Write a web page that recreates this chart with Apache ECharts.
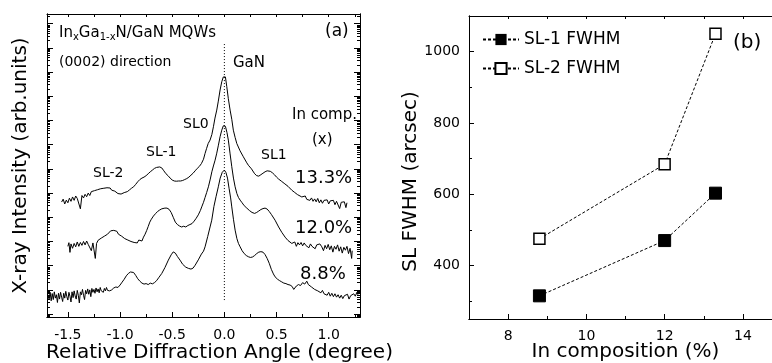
<!DOCTYPE html>
<html><head><meta charset="utf-8">
<script src="https://cdn.jsdelivr.net/npm/echarts@6/dist/echarts.min.js"></script>
<style>html,body{margin:0;padding:0;background:#fff}#c{width:772px;height:363px}</style>
</head><body><div id="c"></div>
<script>
// ---- Panel (a): XRD scans, y = log10 intensity (arb. units, curves offset) ----
const scan133 = [[-1.56,4.63],[-1.545,4.75],[-1.53,4.55],[-1.515,4.71],[-1.50,4.60],[-1.485,4.79],[-1.47,4.66],[-1.455,4.84],[-1.44,4.70],[-1.425,4.88],[-1.41,4.78],[-1.395,4.86],[-1.38,4.35],[-1.365,4.90],[-1.35,4.80],[-1.335,4.95],[-1.32,4.85],[-1.305,5.00],[-1.29,4.90],[-1.275,5.06],[-1.26,4.98],[-1.245,5.10],[-1.23,5.02],[-1.215,5.14],[-1.20,5.08],[-1.185,5.18],[-1.17,5.10],[-1.155,5.20],[-1.14,5.15],[-1.125,5.22],[-1.11,5.16],[-1.095,5.21],[-1.08,5.12],[-1.065,5.17],[-1.05,5.08],[-1.035,5.04],[-1.02,4.98],[-1.005,5.00],[-0.99,4.96],[-0.975,5.03],[-0.96,5.02],[-0.945,5.08],[-0.93,5.06],[-0.91,5.13],[-0.89,5.20],[-0.87,5.26],[-0.85,5.36],[-0.83,5.47],[-0.81,5.56],[-0.79,5.62],[-0.77,5.66],[-0.75,5.72],[-0.73,5.80],[-0.71,5.88],[-0.69,5.95],[-0.67,6.02],[-0.65,6.06],[-0.62,6.08],[-0.60,6.04],[-0.58,5.92],[-0.56,5.80],[-0.54,5.72],[-0.52,5.62],[-0.50,5.54],[-0.48,5.50],[-0.46,5.49],[-0.44,5.50],[-0.43,5.46],[-0.42,5.50],[-0.40,5.52],[-0.38,5.56],[-0.36,5.60],[-0.34,5.66],[-0.32,5.74],[-0.30,5.82],[-0.28,5.92],[-0.26,6.02],[-0.24,6.10],[-0.22,6.22],[-0.20,6.40],[-0.185,6.64],[-0.17,6.85],[-0.155,7.05],[-0.137,7.19],[-0.12,7.42],[-0.105,7.74],[-0.09,8.10],[-0.073,8.43],[-0.058,8.80],[-0.041,9.26],[-0.025,9.60],[-0.01,9.80],[0.0,9.85],[0.01,9.80],[0.023,9.40],[0.038,8.90],[0.055,8.43],[0.071,8.05],[0.086,7.60],[0.103,7.30],[0.119,7.05],[0.15,6.75],[0.182,6.50],[0.215,6.25],[0.23,6.15],[0.26,6.00],[0.29,5.80],[0.31,5.72],[0.33,5.70],[0.35,5.76],[0.37,5.82],[0.39,5.88],[0.41,5.92],[0.425,5.96],[0.44,5.90],[0.46,5.84],[0.48,5.76],[0.50,5.66],[0.52,5.58],[0.55,5.48],[0.58,5.38],[0.61,5.28],[0.646,5.12],[0.67,5.04],[0.70,4.94],[0.742,4.84],[0.76,4.78],[0.775,4.88],[0.79,4.74],[0.805,4.82],[0.82,4.70],[0.835,4.80],[0.85,4.66],[0.865,4.76],[0.88,4.64],[0.895,4.78],[0.91,4.60],[0.925,4.72],[0.94,4.58],[0.955,4.70],[0.97,4.62],[0.985,4.72],[1.00,4.55],[1.015,4.68],[1.03,4.60],[1.045,4.70],[1.06,4.52],[1.075,4.66],[1.09,4.58],[1.105,4.36],[1.12,4.62],[1.135,4.55],[1.15,4.64],[1.165,4.40],[1.175,4.60]];

const scan120 = [[-1.50,2.80],[-1.49,2.95],[-1.48,2.55],[-1.47,2.90],[-1.455,2.72],[-1.44,2.92],[-1.425,2.78],[-1.41,2.98],[-1.395,2.80],[-1.38,2.96],[-1.365,2.84],[-1.35,3.00],[-1.335,2.86],[-1.32,3.02],[-1.305,2.88],[-1.29,2.96],[-1.275,2.62],[-1.26,2.94],[-1.237,2.30],[-1.225,2.92],[-1.21,3.05],[-1.195,2.98],[-1.18,3.14],[-1.165,3.10],[-1.15,3.22],[-1.135,3.18],[-1.12,3.30],[-1.105,3.38],[-1.09,3.44],[-1.075,3.40],[-1.06,3.46],[-1.045,3.38],[-1.03,3.42],[-1.015,3.30],[-1.00,3.32],[-0.985,3.22],[-0.97,3.24],[-0.955,3.12],[-0.94,3.14],[-0.925,3.06],[-0.91,3.10],[-0.895,3.00],[-0.88,3.04],[-0.865,2.96],[-0.85,3.00],[-0.835,2.94],[-0.82,3.06],[-0.805,3.10],[-0.79,3.02],[-0.775,3.18],[-0.76,3.30],[-0.745,3.45],[-0.73,3.62],[-0.715,3.80],[-0.70,3.92],[-0.68,4.05],[-0.66,4.15],[-0.64,4.24],[-0.62,4.30],[-0.60,4.35],[-0.57,4.38],[-0.55,4.38],[-0.53,4.33],[-0.51,4.20],[-0.49,4.00],[-0.47,3.80],[-0.45,3.70],[-0.43,3.64],[-0.41,3.60],[-0.39,3.63],[-0.37,3.60],[-0.35,3.66],[-0.33,3.70],[-0.31,3.74],[-0.29,3.84],[-0.27,3.96],[-0.25,4.10],[-0.23,4.28],[-0.217,4.43],[-0.20,4.62],[-0.185,4.82],[-0.17,5.02],[-0.153,5.26],[-0.135,5.58],[-0.12,5.88],[-0.105,6.12],[-0.089,6.36],[-0.073,6.65],[-0.057,6.98],[-0.041,7.33],[-0.025,7.60],[-0.01,7.78],[0.0,7.81],[0.01,7.76],[0.025,7.50],[0.038,7.19],[0.055,6.62],[0.071,6.09],[0.087,5.62],[0.103,5.26],[0.12,4.98],[0.135,4.82],[0.151,4.71],[0.17,4.60],[0.19,4.48],[0.215,4.38],[0.24,4.28],[0.265,4.20],[0.29,4.16],[0.31,4.20],[0.33,4.26],[0.35,4.32],[0.37,4.36],[0.39,4.38],[0.41,4.34],[0.43,4.24],[0.45,4.12],[0.486,3.88],[0.52,3.60],[0.55,3.38],[0.582,3.18],[0.61,3.04],[0.646,2.92],[0.66,2.85],[0.675,2.98],[0.69,2.80],[0.705,2.95],[0.72,2.86],[0.735,2.96],[0.75,2.82],[0.765,2.94],[0.78,2.84],[0.795,2.92],[0.81,2.74],[0.825,2.90],[0.84,2.80],[0.855,2.88],[0.87,2.70],[0.885,2.86],[0.90,2.78],[0.915,2.90],[0.934,2.78],[0.95,2.62],[0.965,2.84],[0.98,2.70],[0.995,2.88],[1.01,2.66],[1.025,2.82],[1.04,2.56],[1.055,2.80],[1.07,2.68],[1.085,2.86],[1.10,2.60],[1.115,2.78],[1.13,2.52],[1.145,2.76],[1.16,2.64],[1.175,2.80],[1.19,2.50],[1.205,2.72],[1.22,2.30],[1.225,2.62]];

const scan88 = [[-1.69,0.80],[-1.68,0.62],[-1.67,0.90],[-1.66,0.55],[-1.65,0.85],[-1.64,0.60],[-1.63,0.92],[-1.62,0.66],[-1.61,0.80],[-1.60,0.48],[-1.59,0.86],[-1.58,0.62],[-1.57,0.90],[-1.56,0.70],[-1.55,0.52],[-1.54,0.86],[-1.53,0.66],[-1.52,0.94],[-1.51,0.72],[-1.50,0.58],[-1.49,0.90],[-1.48,0.74],[-1.47,0.50],[-1.46,0.92],[-1.45,0.68],[-1.44,0.96],[-1.43,0.75],[-1.42,0.62],[-1.41,0.98],[-1.40,0.78],[-1.39,0.46],[-1.38,0.92],[-1.37,0.80],[-1.36,1.02],[-1.35,0.78],[-1.34,0.60],[-1.33,0.98],[-1.32,0.84],[-1.31,1.04],[-1.30,0.82],[-1.29,1.00],[-1.28,0.72],[-1.27,1.06],[-1.26,0.90],[-1.25,1.02],[-1.24,0.86],[-1.23,1.08],[-1.22,0.92],[-1.21,1.04],[-1.20,0.88],[-1.19,1.10],[-1.18,0.96],[-1.17,1.02],[-1.16,0.90],[-1.15,1.06],[-1.14,0.96],[-1.13,1.10],[-1.12,0.98],[-1.11,1.04],[-1.10,0.96],[-1.09,1.02],[-1.08,1.00],[-1.06,1.08],[-1.04,1.12],[-1.02,1.10],[-1.00,1.20],[-0.98,1.32],[-0.96,1.44],[-0.94,1.58],[-0.92,1.68],[-0.90,1.74],[-0.888,1.76],[-0.87,1.72],[-0.85,1.60],[-0.83,1.46],[-0.81,1.36],[-0.79,1.28],[-0.77,1.24],[-0.75,1.26],[-0.73,1.22],[-0.71,1.28],[-0.69,1.25],[-0.67,1.30],[-0.65,1.38],[-0.63,1.50],[-0.60,1.68],[-0.57,1.92],[-0.537,2.23],[-0.51,2.45],[-0.49,2.57],[-0.47,2.52],[-0.45,2.38],[-0.425,2.23],[-0.40,2.06],[-0.37,1.94],[-0.345,1.89],[-0.32,1.86],[-0.30,1.90],[-0.28,2.02],[-0.25,2.24],[-0.22,2.48],[-0.20,2.60],[-0.185,2.78],[-0.16,3.20],[-0.137,3.60],[-0.121,3.88],[-0.10,4.45],[-0.08,4.85],[-0.058,5.26],[-0.04,5.62],[-0.02,5.86],[0.0,5.95],[0.015,5.85],[0.03,5.62],[0.045,5.20],[0.06,4.80],[0.071,4.43],[0.087,3.92],[0.103,3.47],[0.12,3.12],[0.135,2.92],[0.151,2.78],[0.17,2.62],[0.19,2.50],[0.21,2.42],[0.23,2.37],[0.25,2.34],[0.27,2.36],[0.29,2.42],[0.31,2.50],[0.33,2.56],[0.35,2.58],[0.37,2.56],[0.39,2.46],[0.41,2.30],[0.43,2.10],[0.45,1.85],[0.47,1.66],[0.486,1.54],[0.51,1.44],[0.53,1.38],[0.55,1.33],[0.57,1.28],[0.59,1.26],[0.61,1.22],[0.63,1.20],[0.65,1.14],[0.665,1.02],[0.678,1.10],[0.69,1.16],[0.71,1.22],[0.73,1.18],[0.75,1.30],[0.77,1.24],[0.79,1.36],[0.805,1.22],[0.82,1.28],[0.835,1.12],[0.85,1.18],[0.865,1.02],[0.88,1.10],[0.895,0.96],[0.91,1.04],[0.925,0.88],[0.94,0.98],[0.955,0.84],[0.97,0.92],[0.985,0.78],[1.00,0.90],[1.015,0.74],[1.03,0.86],[1.045,0.72],[1.06,0.84],[1.075,0.70],[1.09,0.80],[1.105,0.66],[1.12,0.78],[1.135,0.64],[1.15,0.76],[1.165,0.68],[1.18,0.82],[1.195,0.62],[1.21,0.76],[1.225,0.70],[1.24,0.84],[1.255,0.74],[1.27,0.90],[1.28,0.80]];

const ganLine = [[0, 0.58], [0, 11.24]];
const angleTicks = [-1.5, -1.0, -0.5, 0.0, 0.5, 1.0];
const angleMinorTicks = [-1.25, -0.75, -0.25, 0.25, 0.75, 1.25];
const angleTopTicks = [-1.5, -1.25, -1.0, -0.75, -0.5, -0.25, 0, 0.25, 0.5, 0.75, 1.0, 1.25];
const decadeTicks = [0,1,2,3,4,5,6,7,8,9,10,11,12];

// ---- Panel (b): FWHM vs In composition ----
const compX = [8.8, 12.0, 13.3];
const sl1Fwhm = [315, 470, 603];
const sl2Fwhm = [475, 684, 1050];
const compTicks = [8, 10, 12, 14];
const compMinorTicks = [7, 9, 11, 13, 15];
const compTopTicks = [7, 8, 9, 10, 11, 12, 13, 14, 15];
const fwhmTicks = [400, 600, 800, 1000];
const fwhmMinorTicks = [300, 500, 700, 900];

const logMinor = [];
for (let k = -1; k <= 12; k++) for (let m = 2; m <= 9; m++) {
  const v = k + Math.log10(m); if (v > -0.12 && v < 12.4) logMinor.push(v);
}

const FONT = 'DejaVu Sans';
const ink = '#000';
function xAx(grid, pos, ticks, len, opts) {
  return Object.assign({
    type: 'value', gridIndex: grid, position: pos,
    axisLine: { show: true, onZero: false, lineStyle: { color: ink, width: 1 } },
    axisTick: { show: true, inside: true, length: len, customValues: ticks, lineStyle: { color: ink } },
    axisLabel: { show: false }, splitLine: { show: false }
  }, opts);
}
const yAx = xAx;

const option = {
  animation: false,
  backgroundColor: '#fff',
  textStyle: { fontFamily: FONT, color: ink },
  grid: [
    { left: 47, right: 412, top: 14, bottom: 46, outerBoundsMode: 'none', containLabel: false },
    { left: 469, right: -10, top: 16, bottom: 44, outerBoundsMode: 'none', containLabel: false }
  ],
  xAxis: [
    xAx(0, 'bottom', angleTicks, 5, { min: -1.7, max: 1.3,
      axisLabel: { show: true, customValues: angleTicks, formatter: v => v.toFixed(1), fontSize: 14, fontFamily: FONT, color: ink, margin: 11 },
      name: 'Relative Diffraction Angle (degree)', nameLocation: 'middle', nameGap: 26, nameMoveOverlap: false,
      nameTextStyle: { fontSize: 20, fontFamily: FONT, color: ink, padding: [0, 0, 0, 32] } }),
    xAx(0, 'bottom', angleMinorTicks, 3, { min: -1.7, max: 1.3 }),
    xAx(0, 'top', angleTopTicks, 3, { min: -1.7, max: 1.3 }),
    xAx(1, 'bottom', compTicks, 5, { min: 7, max: 15,
      axisLabel: { show: true, customValues: compTicks, formatter: v => String(v), fontSize: 14, fontFamily: FONT, color: ink, margin: 10 },
      name: 'In composition (%)', nameLocation: 'middle', nameGap: 23, nameMoveOverlap: false,
      nameTextStyle: { fontSize: 20, fontFamily: FONT, color: ink } }),
    xAx(1, 'bottom', compMinorTicks, 3, { min: 7, max: 15 }),
    xAx(1, 'top', compTopTicks, 3, { min: 7, max: 15 })
  ],
  yAxis: [
    yAx(0, 'left', decadeTicks, 6, { min: -0.12, max: 12.4,
      name: 'X-ray Intensity (arb.units)', nameLocation: 'middle', nameGap: 16,
      nameTextStyle: { fontSize: 20, fontFamily: FONT, color: ink } }),
    yAx(0, 'left', logMinor, 3, { min: -0.12, max: 12.4 }),
    yAx(0, 'right', decadeTicks, 6, { min: -0.12, max: 12.4 }),
    yAx(0, 'right', logMinor, 3, { min: -0.12, max: 12.4 }),
    yAx(1, 'left', fwhmTicks, 5, { min: 250, max: 1100,
      axisLabel: { show: true, customValues: fwhmTicks, formatter: v => String(v), fontSize: 14, fontFamily: FONT, color: ink, margin: 9 },
      name: 'SL FWHM (arcsec)', nameLocation: 'middle', nameGap: 47,
      nameTextStyle: { fontSize: 20, fontFamily: FONT, color: ink, padding: [0, 28, 0, 0] } }),
    yAx(1, 'left', fwhmMinorTicks, 3, { min: 250, max: 1100 })
  ],
  legend: {
    data: ['SL-1 FWHM', 'SL-2 FWHM'], orient: 'vertical', left: 477, top: 26,
    itemWidth: 36, itemHeight: 14, itemGap: 12,
    textStyle: { fontSize: 17, fontFamily: FONT, color: ink }
  },
  series: [
    { type: 'line', name: '13.3%', xAxisIndex: 0, yAxisIndex: 0, data: scan133, showSymbol: false, symbol: 'none', lineStyle: { color: ink, width: 1 } },
    { type: 'line', name: '12.0%', xAxisIndex: 0, yAxisIndex: 0, data: scan120, showSymbol: false, symbol: 'none', lineStyle: { color: ink, width: 1 } },
    { type: 'line', name: '8.8%', xAxisIndex: 0, yAxisIndex: 0, data: scan88, showSymbol: false, symbol: 'none', lineStyle: { color: ink, width: 1 } },
    { type: 'line', name: 'GaN', xAxisIndex: 0, yAxisIndex: 0, data: ganLine, symbol: 'none', lineStyle: { color: ink, width: 1, type: [1, 2] } },
    { type: 'line', name: 'SL-1 FWHM', xAxisIndex: 3, yAxisIndex: 4, data: compX.map((x, i) => [x, sl1Fwhm[i]]),
      symbol: 'rect', symbolSize: 12, itemStyle: { color: ink, borderColor: ink },
      lineStyle: { color: ink, width: 1, type: [3, 2] } },
    { type: 'line', name: 'SL-2 FWHM', xAxisIndex: 3, yAxisIndex: 4, data: compX.map((x, i) => [x, sl2Fwhm[i]]),
      symbol: 'rect', symbolSize: 11, itemStyle: { color: '#fff', borderColor: ink, borderWidth: 1.5 },
      lineStyle: { color: ink, width: 1, type: [3, 2] } }
  ],
  graphic: [
    { type: 'text', x: 59, y: 33, style: { text: '{n|In}{s|x}{n|Ga}{s|1-x}{n|N/GaN MQWs}', textVerticalAlign: 'middle',
      rich: { n: { fontSize: 15, fontFamily: FONT, fill: ink, lineHeight: 18 }, s: { fontSize: 10, fontFamily: FONT, fill: ink, lineHeight: 18, padding: [8, 0, 0, 0] } } } },
    { type: 'text', x: 59, y: 62, style: { text: '(0002) direction', font: '14px ' + FONT, fill: ink, textVerticalAlign: 'middle' } },
    { type: 'text', x: 325, y: 32, style: { text: '(a)', font: '17px ' + FONT, fill: ink, textVerticalAlign: 'middle' } },
    { type: 'text', x: 233, y: 63, style: { text: 'GaN', font: '15px ' + FONT, fill: ink, textVerticalAlign: 'middle' } },
    { type: 'text', x: 183, y: 124, style: { text: 'SL0', font: '14px ' + FONT, fill: ink, textVerticalAlign: 'middle' } },
    { type: 'text', x: 146, y: 152, style: { text: 'SL-1', font: '14px ' + FONT, fill: ink, textVerticalAlign: 'middle' } },
    { type: 'text', x: 261, y: 155, style: { text: 'SL1', font: '14px ' + FONT, fill: ink, textVerticalAlign: 'middle' } },
    { type: 'text', x: 93, y: 173, style: { text: 'SL-2', font: '14px ' + FONT, fill: ink, textVerticalAlign: 'middle' } },
    { type: 'text', x: 292, y: 115, style: { text: 'In comp.', font: '15px ' + FONT, fill: ink, textVerticalAlign: 'middle' } },
    { type: 'text', x: 312, y: 140, style: { text: '(x)', font: '15px ' + FONT, fill: ink, textVerticalAlign: 'middle' } },
    { type: 'text', x: 295, y: 178, style: { text: '13.3%', font: '18px ' + FONT, fill: ink, textVerticalAlign: 'middle' } },
    { type: 'text', x: 295, y: 228, style: { text: '12.0%', font: '18px ' + FONT, fill: ink, textVerticalAlign: 'middle' } },
    { type: 'text', x: 300, y: 274, style: { text: '8.8%', font: '18px ' + FONT, fill: ink, textVerticalAlign: 'middle' } },
    { type: 'text', x: 733, y: 43, style: { text: '(b)', font: '20px ' + FONT, fill: ink, textVerticalAlign: 'middle' } }
  ]
};
const chart = echarts.init(document.getElementById('c'), null, { renderer: 'canvas' });
chart.setOption(option);
</script></body></html>
